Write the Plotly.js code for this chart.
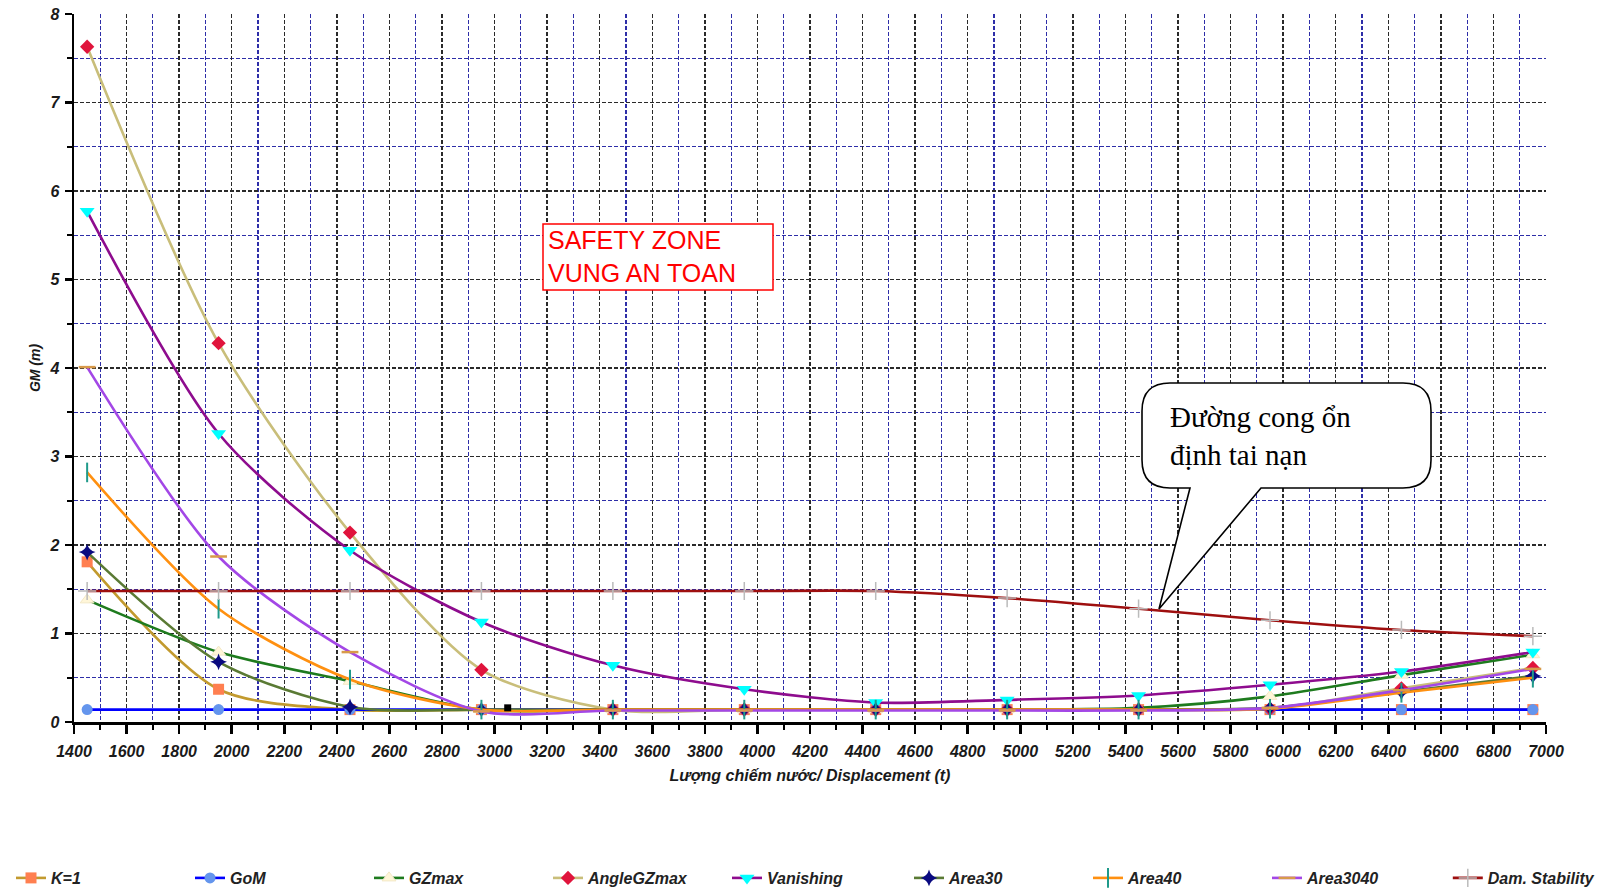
<!DOCTYPE html>
<html>
<head>
<meta charset="utf-8">
<script src="https://cdn.plot.ly/plotly-3.0.1.min.js"></script>
<style>html,body{margin:0;padding:0;background:#fff;}#chart{width:1614px;height:891px;}</style>
</head>
<body>
<div id="chart"></div>
<script>
// ---- data ----
const displacement = [1450, 1950, 2450, 2950, 3450, 3950, 4450, 4950, 5450, 5950, 6450, 6950];
const k1           = [1.81, 0.37, 0.14, 0.14, 0.14, 0.14, 0.14, 0.14, 0.14, 0.14, 0.14, 0.14];
const gom          = [0.14, 0.14, 0.14, 0.14, 0.14, 0.14, 0.14, 0.14, 0.14, 0.14, 0.14, 0.14];
const gzmax        = [1.38, 0.79, 0.46, 0.14, 0.14, 0.14, 0.14, 0.14, 0.16, 0.29, 0.53, 0.76];
const angleGZmax   = [7.63, 4.28, 2.14, 0.59, 0.14, 0.14, 0.14, 0.14, 0.14, 0.15, 0.38, 0.61];
const vanishing    = [5.77, 3.26, 1.94, 1.13, 0.64, 0.37, 0.22, 0.25, 0.30, 0.42, 0.57, 0.79];
const area30       = [1.92, 0.68, 0.17, 0.14, 0.14, 0.14, 0.14, 0.14, 0.14, 0.16, 0.34, 0.52];
const area40       = [2.82, 1.28, 0.48, 0.14, 0.14, 0.14, 0.14, 0.14, 0.14, 0.15, 0.33, 0.50];
const area3040     = [4.01, 1.87, 0.79, 0.12, 0.13, 0.13, 0.13, 0.13, 0.13, 0.16, 0.36, 0.60];
const damStability = [1.48, 1.48, 1.48, 1.48, 1.48, 1.48, 1.48, 1.40, 1.28, 1.15, 1.04, 0.97];
const strayX = [3050];
const strayY = [0.16];

const seriesNames = ["K=1", "GoM", "GZmax", "AngleGZmax", "Vanishing", "Area30", "Area40", "Area3040", "Dam. Stability"];
const xTitle = "Lượng chiếm nước/ Displacement (t)";
const yTitle = "GM (m)";
const zoneText = "SAFETY ZONE<br>VUNG AN TOAN";
const calloutText = "Đường cong ổn<br>định tai nạn";

// ---- styles ----
const FONT = "Arial, 'Liberation Sans', sans-serif";
const bi = (size, color) => ({family: FONT, size: size, color: color || "#1a1a1a", weight: "bold", style: "italic"});

function tr(name, y, lineColor, marker, legendId) {
  return {
    type: "scatter", mode: "lines+markers", name: name,
    x: displacement, y: y, legend: legendId,
    line: {color: lineColor, width: 2.6, shape: "spline", smoothing: 0.8},
    marker: marker
  };
}

const traces = [
  tr(seriesNames[0], k1, "#C29A2E", {symbol: "square", size: 11, color: "#FF7F50"}, "legend"),
  tr(seriesNames[1], gom, "#0000FF", {symbol: "circle", size: 11, color: "#6495ED"}, "legend"),
  tr(seriesNames[2], gzmax, "#1E7B1E", {symbol: "triangle-up", size: 12, color: "#FFF6D8", line: {color: "#F3E8C6", width: 1}}, "legend"),
  tr(seriesNames[3], angleGZmax, "#C9BE7A", {symbol: "diamond", size: 11, color: "#E0143C"}, "legend"),
  tr(seriesNames[4], vanishing, "#8E0C8E", {symbol: "triangle-down", size: 13, color: "#00FFFF"}, "legend"),
  tr(seriesNames[5], area30, "#5A7A34", {symbol: "star-diamond", size: 12, color: "#0A0A80"}, "legend2"),
  tr(seriesNames[6], area40, "#FF9010", {symbol: "line-ns-open", size: 14, color: "#1F9A8A", line: {color: "#1F9A8A", width: 2}}, "legend2"),
  tr(seriesNames[7], area3040, "#A347E6", {symbol: "line-ew-open", size: 12, color: "#D89A4A", line: {color: "#D89A4A", width: 2.5}}, "legend2"),
  tr(seriesNames[8], damStability, "#9E0F0F", {symbol: "cross-thin-open", size: 13, color: "#BBBBBB", line: {color: "#BBBBBB", width: 1.5}}, "legend3"),
  {type: "scatter", mode: "markers", x: strayX, y: strayY, showlegend: false, hoverinfo: "skip",
   marker: {symbol: "square", size: 7, color: "#000"}}
];

// plot area in pixels
const L = 74, R = 68, T = 14, B = 169, W = 1614, H = 891;
const PW = W - L - R, PH = H - T - B;
const px = v => (v - L) / PW;
const py = v => (H - B - v) / PH;
const pt = (x, y) => px(x) + "," + py(y);

// callout balloon path (paper coordinates)
const bx0 = 1142, bx1 = 1431, by0 = 383, by1 = 488, rr = 28;
const balloon =
  "M" + pt(bx0 + rr, by0) +
  " L" + pt(bx1 - rr, by0) +
  " Q" + pt(bx1, by0) + " " + pt(bx1, by0 + rr) +
  " L" + pt(bx1, by1 - rr) +
  " Q" + pt(bx1, by1) + " " + pt(bx1 - rr, by1) +
  " L" + pt(1261, by1) +
  " L" + pt(1159, 609) +
  " L" + pt(1190, by1) +
  " L" + pt(bx0 + rr, by1) +
  " Q" + pt(bx0, by1) + " " + pt(bx0, by1 - rr) +
  " L" + pt(bx0, by0 + rr) +
  " Q" + pt(bx0, by0) + " " + pt(bx0 + rr, by0) + " Z";

const gridMajor = "#2a2a2a", gridMinor = "#2e2ea8";
const LEG_X0 = 11, LEG_STEP = 179.6;
const legendStyle = (xPix, ew) => ({
  orientation: "h", xref: "container", yref: "container",
  x: xPix / W, xanchor: "left", y: 1 - 878 / H, yanchor: "middle",
  entrywidth: ew, entrywidthmode: "pixels", itemwidth: 30,
  font: bi(16, "#222"), bgcolor: "rgba(0,0,0,0)", borderwidth: 0, tracegroupgap: 0
});

const layout = {
  width: W, height: H,
  margin: {l: L, r: R, t: T, b: B, autoexpand: false},
  paper_bgcolor: "#fff", plot_bgcolor: "#fff",
  showlegend: true,
  xaxis: {
    range: [1400, 7000], tick0: 1400, dtick: 200,
    ticks: "outside", ticklen: 9, tickwidth: 2.5, tickcolor: "#000",
    showline: true, linewidth: 2.5, linecolor: "#000", zeroline: false,
    showgrid: true, gridcolor: gridMajor, gridwidth: 1.3, griddash: "4px,2px",
    minor: {dtick: 100, ticks: "outside", ticklen: 5, tickwidth: 2, tickcolor: "#000",
            showgrid: true, gridcolor: gridMinor, gridwidth: 1.2, griddash: "4px,2px"},
    tickfont: bi(16), ticklabelstandoff: 4,
    title: {text: xTitle, font: bi(16), standoff: 11}
  },
  yaxis: {
    range: [0, 8], tick0: 0, dtick: 1,
    ticks: "outside", ticklen: 7, tickwidth: 2.5, tickcolor: "#000",
    showline: true, linewidth: 2.5, linecolor: "#000", zeroline: false,
    showgrid: true, gridcolor: gridMajor, gridwidth: 1.3, griddash: "4px,2px",
    minor: {dtick: 0.5, ticks: "outside", ticklen: 5, tickwidth: 2, tickcolor: "#000",
            showgrid: true, gridcolor: gridMinor, gridwidth: 1.2, griddash: "4px,2px"},
    tickfont: bi(16), ticklabelstandoff: 2,
    title: {text: yTitle, font: bi(14), standoff: 6}
  },
  legend: legendStyle(LEG_X0, 134),
  legend2: legendStyle(LEG_X0 + 5 * LEG_STEP, 134),
  legend3: legendStyle(LEG_X0 + 8 * LEG_STEP, 118),
  shapes: [
    {type: "rect", xref: "paper", yref: "paper", x0: px(543), x1: px(773), y0: py(224), y1: py(290),
     line: {color: "#FF0000", width: 1.5}, fillcolor: "#FFFFFF", layer: "above"},
    {type: "path", xref: "paper", yref: "paper", path: balloon,
     line: {color: "#000", width: 1.6}, fillcolor: "#FFFFFF", layer: "above"}
  ],
  annotations: [
    {xref: "paper", yref: "paper", x: px(546), y: py(256), xanchor: "left", yanchor: "middle",
     text: zoneText, showarrow: false, align: "left",
     font: {family: FONT, size: 25, color: "#FF0000"}},
    {xref: "paper", yref: "paper", x: px(1168), y: py(436), xanchor: "left", yanchor: "middle",
     text: calloutText, showarrow: false, align: "left",
     font: {family: "'Liberation Serif', 'Times New Roman', serif", size: 29, color: "#000"}}
  ]
};

Plotly.newPlot("chart", traces, layout, {displayModeBar: false, staticPlot: true});
</script>
</body>
</html>
